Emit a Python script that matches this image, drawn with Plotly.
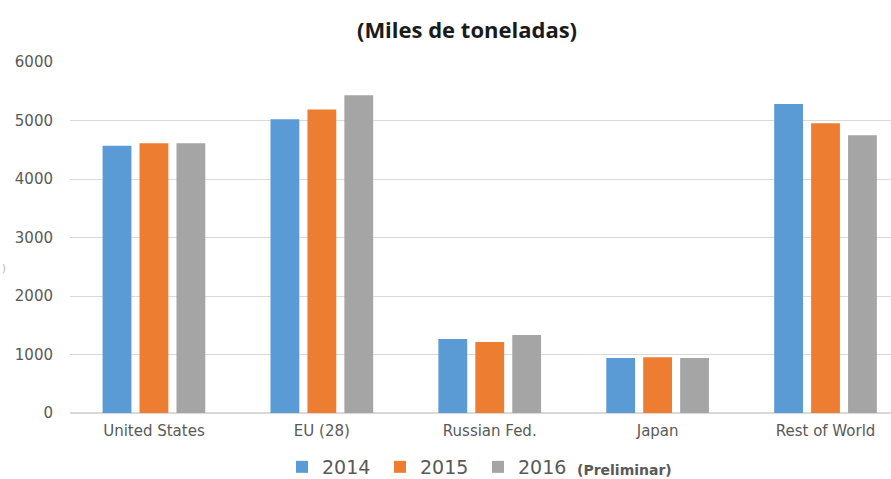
import plotly.graph_objects as go

categories = ["United States", "EU (28)", "Russian Fed.", "Japan", "Rest of World"]
series_names = ["2014", "2015", "2016"]
v2014 = [4570, 5020, 1265, 940, 5280]
v2015 = [4610, 5190, 1215, 955, 4955]
v2016 = [4610, 5430, 1335, 940, 4750]
colors = ["#5b9bd5", "#ed7d31", "#a5a5a5"]

fig = go.Figure()
for name, vals, c in zip(series_names, [v2014, v2015, v2016], colors):
    fig.add_trace(go.Bar(x=categories, y=vals, name=name, marker_color=c,
                         marker_line_width=0))

W, H = 891, 479
L, R, T, B = 70, 0, 62, 66
pw = W - L - R
ph = H - T - B
FONT = "DejaVu Sans"

fig.update_layout(
    width=W, height=H,
    margin=dict(l=L, r=R, t=T, b=B, autoexpand=False),
    paper_bgcolor="white", plot_bgcolor="white",
    font=dict(family=FONT, color="#595959"),
    barmode="group", bargap=0.34, bargroupgap=0.22,
    title=dict(text="<b>(Miles de toneladas)</b>", x=467 / W, xanchor="center",
               y=1 - 30 / H, yanchor="middle",
               font=dict(size=22, color="#1a1a1a", family="Open Sans")),
    showlegend=True,
    legend=dict(orientation="h", x=(282 - L) / pw, xanchor="left",
                y=(413 - 467) / ph, yanchor="middle",
                font=dict(size=19, color="#595959"),
                itemwidth=30, entrywidth=53, traceorder="normal"),
    xaxis=dict(range=[-0.5, 4.39], showgrid=False, showline=False,
               tickfont=dict(size=15, color="#595959"), ticks="",
               ticklabelstandoff=7),
    yaxis=dict(range=[0, 6000], tickvals=[0, 1000, 2000, 3000, 4000, 5000, 6000],
               showgrid=True, gridcolor="#d9d9d9", gridwidth=1,
               zeroline=True, zerolinecolor="#d9d9d9",
               tickfont=dict(size=15, color="#595959"), ticklabelstandoff=16),
)

fig.add_annotation(text="<b>(Preliminar)</b>", xref="paper", yref="paper",
                   x=(575 - L) / pw, xanchor="left", y=(413 - 470) / ph, yanchor="middle",
                   showarrow=False, font=dict(size=14, color="#595959"))

fig.add_annotation(text=")", xref="paper", yref="paper",
                   x=(0 - L) / pw, xanchor="left", y=(413 - 268) / ph, yanchor="middle",
                   showarrow=False, font=dict(size=10, color="#b0b0b0"))

fig.write_html("out.html")
